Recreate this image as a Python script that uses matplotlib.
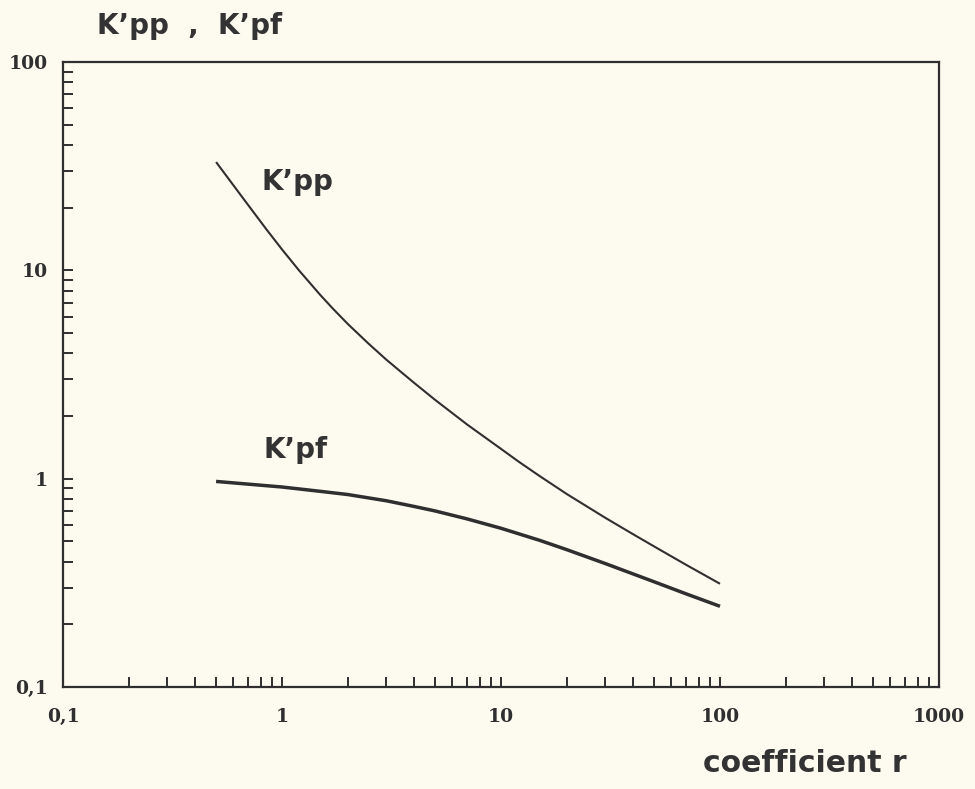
import matplotlib
matplotlib.use("Agg")
import matplotlib.pyplot as plt
from matplotlib.ticker import LogLocator, NullFormatter, FixedLocator, FixedFormatter

# Coefficient r and the two factors
r_pp = [0.5, 0.6, 0.7, 0.85, 1.0, 1.2, 1.5, 1.7, 2.0, 2.5, 3.0, 4.0, 5.0, 7.0,
        10.0, 12.0, 15.0, 20.0, 30.0, 40.0, 50.0, 70.0, 100.0]
k_pp = [33.1, 25.6, 20.6, 15.7, 12.6, 9.95, 7.59, 6.58, 5.52, 4.42, 3.72, 2.89, 2.39, 1.82,
        1.39, 1.21, 1.03, 0.843, 0.648, 0.542, 0.473, 0.386, 0.313]

r_pf = [0.5, 1.0, 1.5, 2.0, 3.0, 4.0, 5.0, 7.0, 10.0, 15.0, 20.0, 30.0, 50.0, 70.0, 100.0]
k_pf = [0.97, 0.912, 0.869, 0.839, 0.783, 0.736, 0.70, 0.641, 0.578, 0.506, 0.456, 0.391,
        0.320, 0.280, 0.244]

x_ticks = [0.1, 1, 10, 100, 1000]
x_labels = ["0,1", "1", "10", "100", "1000"]
y_ticks = [0.1, 1, 10, 100]
y_labels = ["0,1", "1", "10", "100"]

paper = "#fdfaf0"
ink = "#2f2f2f"

fig = plt.figure(figsize=(9.75, 7.89), dpi=100, facecolor=paper)
ax = fig.add_axes([63 / 975, 1 - 687 / 789, (939 - 63) / 975, (687 - 62) / 789])
ax.set_facecolor(paper)

ax.plot(r_pp, k_pp, color=ink, lw=1.5, solid_capstyle="butt", solid_joinstyle="round")
ax.plot(r_pf, k_pf, color=ink, lw=2.5, solid_capstyle="butt", solid_joinstyle="round")

ax.set_xscale("log")
ax.set_yscale("log")
ax.set_xlim(0.1, 1000)
ax.set_ylim(0.1, 100)

for s in ax.spines.values():
    s.set_color(ink)
    s.set_linewidth(1.6)

ax.xaxis.set_major_locator(FixedLocator(x_ticks))
ax.xaxis.set_major_formatter(FixedFormatter(x_labels))
ax.yaxis.set_major_locator(FixedLocator(y_ticks))
ax.yaxis.set_major_formatter(FixedFormatter(y_labels))
ax.xaxis.set_minor_locator(LogLocator(base=10, subs=range(2, 10), numticks=20))
ax.yaxis.set_minor_locator(LogLocator(base=10, subs=range(2, 10), numticks=20))
ax.xaxis.set_minor_formatter(NullFormatter())
ax.yaxis.set_minor_formatter(NullFormatter())

ax.tick_params(which="both", direction="in", length=7, width=1.4, color=ink,
               top=False, right=False)
ax.tick_params(axis="x", which="major", pad=15)
ax.tick_params(axis="y", which="major", pad=11)
for lab in ax.get_xticklabels() + ax.get_yticklabels():
    lab.set_fontfamily("DejaVu Serif")
    lab.set_fontweight("bold")
    lab.set_fontsize(13.5)
    lab.set_color(ink)

curve_font = dict(family="DejaVu Sans", weight="bold", size=20, color="#333333")
ax.text(0.81, 26.4, "K\u2019pp", ha="left", va="center", **curve_font)
ax.text(0.82, 1.37, "K\u2019pf", ha="left", va="center", **curve_font)

fig.text(97 / 975, 1 - 26 / 789, "K\u2019pp  ,  K\u2019pf", ha="left", va="center", **curve_font)
fig.text(907 / 975, 1 - 763 / 789, "coefficient r", ha="right", va="center",
         family="DejaVu Sans", weight="bold", size=21.5, color="#333333")

fig.savefig("out.png", dpi=100, facecolor=paper)
